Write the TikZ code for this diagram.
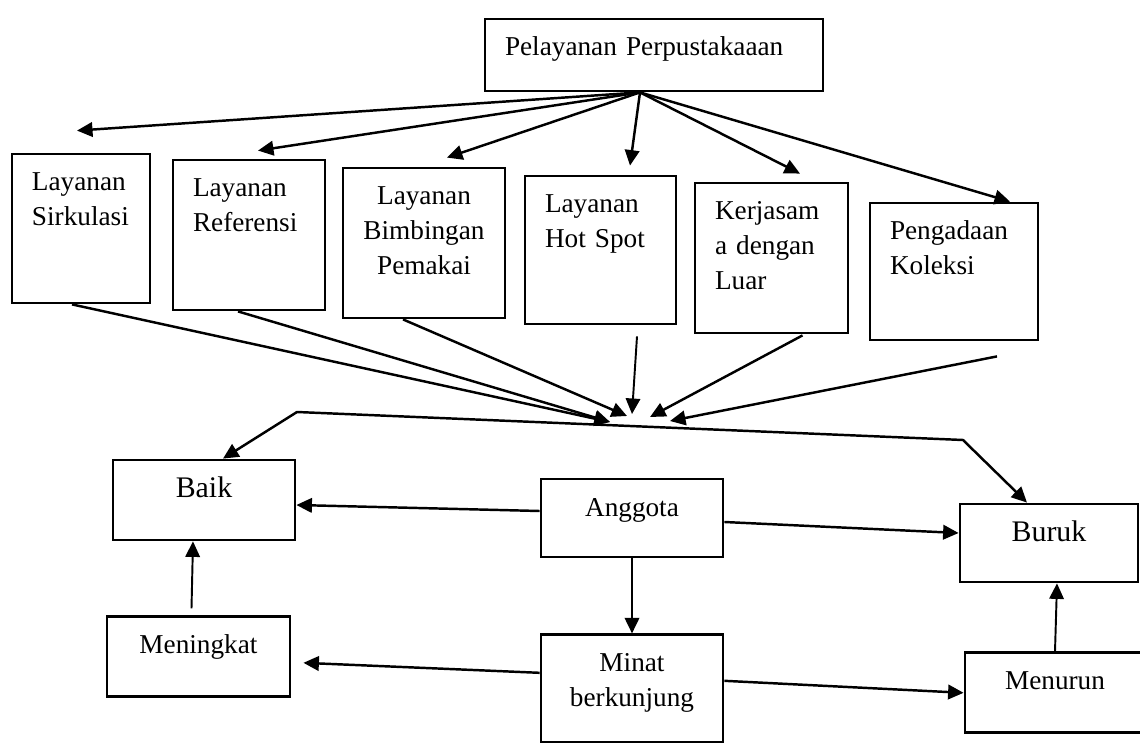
\documentclass[tikz,border=0pt]{standalone}
\usepackage{fontspec}
\setmainfont{Liberation Serif}
\usetikzlibrary{arrows.meta,positioning,calc}

\begin{document}
\begin{tikzpicture}[
    x=0.2mm, y=-0.2mm,
    font=\fontsize{15.5}{19.8}\selectfont,
    >={Triangle[length=3.1mm, width=2.9mm]},
    node distance=15mm,
    box/.style={draw, line width=1.6pt, align=left, inner xsep=4mm, inner ysep=2mm, text height=5.4mm},
    cbox/.style={box, align=center},
    bigbox/.style={cbox, font=\fontsize{17}{21}\selectfont},
    line/.style={->, line width=1.4pt},
    thinline/.style={->, line width=1.1pt}
]
\useasboundingbox (0,0) rectangle (1140,743);

% Top service box
\node[box, text width=59.6mm, text depth=5mm] (pel) at (654,55) {Pelayanan Perpustakaaan};

% Service units
\node[box, text width=19.6mm, text depth=20.4mm] (sirk) at (81,228.5) {Layanan\\Sirkulasi};
\node[box, text width=22.4mm, text depth=20.6mm] (ref) at (249,235) {Layanan\\Referensi};
\node[cbox, text width=24.4mm, text depth=20.6mm] (bimb) at (424,243) {Layanan\\Bimbingan\\Pemakai};
\node[box, text width=22.2mm, text depth=20.2mm] (hot) at (600.5,250) {Layanan\\Hot Spot};
\node[box, text width=22.6mm, text depth=20.6mm] (kerj) at (771.5,258) {Kerjasam\\a dengan\\Luar};
\node[box, text width=25.6mm, text depth=18mm] (peng) at (954,271.5) {Pengadaan\\Koleksi};

% Members and outcome
\node[bigbox, text width=28.4mm, text depth=6.6mm] (baik) at (204,500) {Baik};
\node[cbox, text width=28.4mm, text depth=6.2mm] (ang) at (632,518) {Anggota};
\node[bigbox, text width=27.6mm, text depth=6.2mm] (buruk) at (1049,543) {Buruk};
\node[cbox, text width=28.6mm, text depth=6.6mm, below=14.8mm of baik, xshift=-1.1mm] (mening) {Meningkat};
\node[cbox, text width=28.4mm, text depth=12.2mm, below=of ang] (minat) {Minat\\berkunjung};
\node[cbox, text width=28mm, text depth=6.6mm, below=13.6mm of buruk, xshift=1.2mm] (menurun) {Menurun};

% Fan out from the top box
\coordinate (fan) at ($(pel.south)+(-14,0)$);
\draw[line] (fan) -- ($(sirk.north)+(-4,-22)$);
\draw[line] (fan) -- ($(ref.north)+(9,-8)$);
\draw[line] (fan) -- ($(bimb.north)+(23,-9)$);
\draw[line] (fan) -- ($(hot.north)+(29.5,-9)$);
\draw[line] (fan) -- ($(kerj.north)+(28.5,-8)$);
\draw[line] (fan) -- ($(peng.north)+(56,0)$);

% Converging arrows
\coordinate (hub) at (630,422);
\draw[line] ($(sirk.south)+(-9,0)$) -- ($(hub)+(-20,0)$);
\draw[line] ($(ref.south)+(-11,0)$) -- ($(hub)+(-20,0)$);
\draw[line] ($(bimb.south)+(-21,0)$) -- ($(hub)+(-3,-6)$);
\draw[thinline] ($(hot.south)+(36.5,11)$) -- ($(hub)+(2,-8)$);
\draw[line] ($(kerj.south)+(31,1)$) -- ($(hub)+(20,-5)$);
\draw[line] ($(peng.south)+(43,15)$) -- ($(hub)+(40,-1)$);

% Split to Baik / Buruk
\coordinate (bend1) at (297,412);
\coordinate (bend2) at (963,440);
\draw[line, <->] ($(baik.north)+(19,0)$) -- (bend1) -- (bend2) -- ($(buruk.north)+(-22,0)$);

% Lower part
\draw[line] ($(ang.west)+(0,-7)$) -- ($(baik.east)+(0,5)$);
\draw[line] ($(ang.east)+(0,4)$) -- ($(buruk.west)+(0,-10)$);
\draw[thinline] (ang) -- (minat);
\draw[line] ($(minat.west)+(0,-16)$) -- ($(mening.east)+(12,6)$);
\draw[line] ($(minat.east)+(0,-8)$) -- (menurun.west);
\draw[thinline] ($(mening.north)+(-7,-7)$) -- ($(baik.south)+(-11,0)$);
\draw[thinline] (menurun.north) -- ($(buruk.south)+(8,0)$);

\end{tikzpicture}
\end{document}
